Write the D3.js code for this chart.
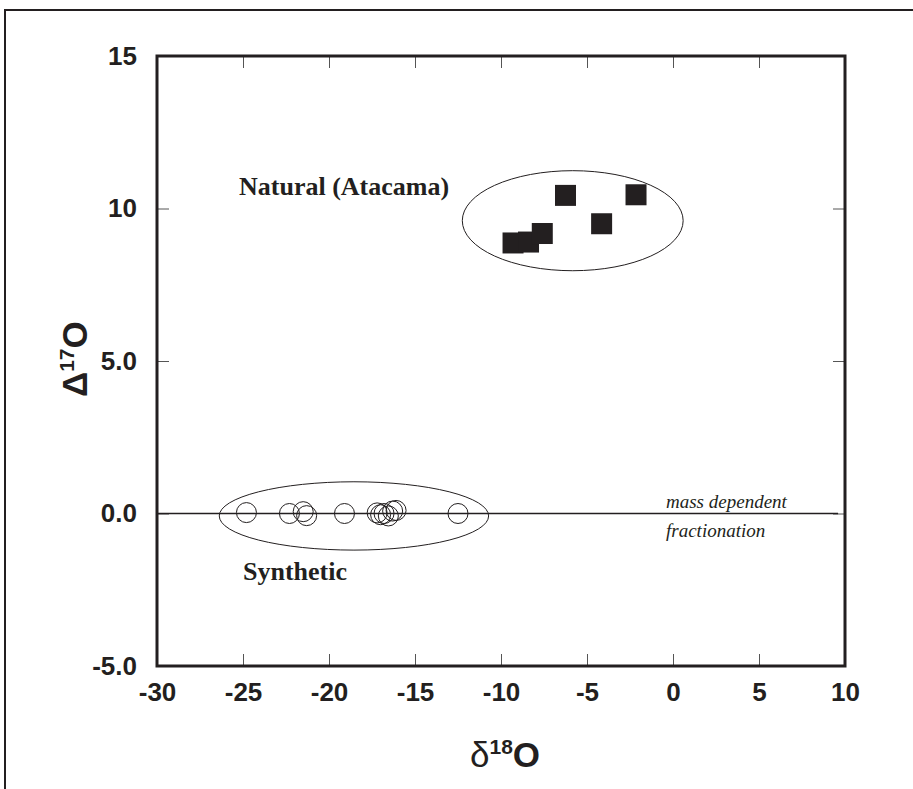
<!DOCTYPE html>
<meta charset="utf-8">
<style>
body { margin: 0; background: #fff; }
.tick text { font: bold 26px "Liberation Sans", Arial, sans-serif; fill: #231f20; }
.tick line { stroke: #555; stroke-width: 1; }
.domain { display: none; }
.lbl { font-family: "Liberation Serif", "Times New Roman", serif; fill: #231f20; }
.title { font-family: "Liberation Sans", Arial, sans-serif; font-weight: bold; fill: #231f20; }
</style>
<script src="https://cdn.jsdelivr.net/npm/d3@7"></script>
<body>
<script>

var width = 913, height = 789;

// x domain and ticks
var xDomain = [-30, 10];
var xTicks = [-30, -25, -20, -15, -10, -5, 0, 5, 10];
var xTickLabels = ["-30", "-25", "-20", "-15", "-10", "-5", "0", "5", "10"];
var yDomain = [-5, 15];
var yTicks = [-5, 0, 5, 10, 15];
var yTickLabels = ["-5.0", "0.0", "5.0", "10", "15"];

// natural (Atacama) samples: d18O, D17O
var naturalX = [-9.3, -8.4, -7.6, -6.25, -4.15, -2.15];
var naturalY = [8.87, 8.9, 9.18, 10.43, 9.5, 10.45];

// synthetic samples
var synthX = [-24.8, -22.3, -21.5, -21.3, -19.1, -17.2, -17.0, -16.8, -16.55, -16.3, -16.1, -12.5];
var synthY = [0.03, 0.0, 0.06, -0.07, 0.0, 0.02, -0.04, 0.0, -0.08, 0.08, 0.1, 0.0];

// group ellipses: cx, cy, rx, ry (data units)
var groupNames = ["natural", "synthetic"];
var ellCx = [-5.83, -18.55];
var ellCy = [9.6, -0.08];
var ellRx = [6.42, 7.83];
var ellRy = [1.64, 1.12];

var margin = {left: 157, right: 68, top: 56, bottom: 123};
var pw = width - margin.left - margin.right,
    ph = height - margin.top - margin.bottom;

var svg = d3.select("body").append("svg")
    .attr("width", width)
    .attr("height", height);

// outer frame (open at right/bottom of the page)
svg.append("rect")
    .attr("x", 5).attr("y", 10)
    .attr("width", 1000).attr("height", 1000)
    .attr("fill", "none")
    .attr("stroke", "#231f20")
    .attr("stroke-width", 2);

var g = svg.append("g")
    .attr("transform", "translate(" + margin.left + "," + margin.top + ")");

var x = d3.scaleLinear().domain(xDomain).range([0, pw]);
var y = d3.scaleLinear().domain(yDomain).range([ph, 0]);

// axes with inward ticks
g.append("g")
    .attr("transform", "translate(0," + ph + ")")
    .call(d3.axisBottom(x).tickValues(xTicks).tickSize(-12).tickPadding(17)
      .tickFormat(function(d, i) { return xTickLabels[i]; }));

g.append("g")
    .call(d3.axisTop(x).tickValues(xTicks).tickSize(-12).tickFormat(""));

g.append("g")
    .call(d3.axisLeft(y).tickValues(yTicks).tickSize(-12).tickPadding(20)
      .tickFormat(function(d, i) { return yTickLabels[i]; }));

g.append("g")
    .attr("transform", "translate(" + pw + ",0)")
    .call(d3.axisRight(y).tickValues(yTicks).tickSize(-12).tickFormat(""));

// mass dependent fractionation line
g.append("line")
    .attr("x1", x(-30)).attr("x2", x(9.6))
    .attr("y1", y(0)).attr("y2", y(0))
    .attr("stroke", "#231f20")
    .attr("stroke-width", 1.3);

// ellipses
g.selectAll("ellipse.grp")
    .data(groupNames)
    .enter().append("ellipse")
    .attr("class", "grp")
    .attr("cx", function(d, i) { return x(ellCx[i]); })
    .attr("cy", function(d, i) { return y(ellCy[i]); })
    .attr("rx", function(d, i) { return x(ellCx[i] + ellRx[i]) - x(ellCx[i]); })
    .attr("ry", function(d, i) { return y(ellCy[i]) - y(ellCy[i] + ellRy[i]); })
    .attr("fill", "none")
    .attr("stroke", "#231f20")
    .attr("stroke-width", 1);

// synthetic points
g.selectAll("circle.syn")
    .data(synthX)
    .enter().append("circle")
    .attr("class", "syn")
    .attr("cx", function(d) { return x(d); })
    .attr("cy", function(d, i) { return y(synthY[i]); })
    .attr("r", 10)
    .attr("fill", "none")
    .attr("stroke", "#231f20")
    .attr("stroke-width", 1);

// natural points
var sq = 21;
g.selectAll("rect.nat")
    .data(naturalX)
    .enter().append("rect")
    .attr("class", "nat")
    .attr("x", function(d) { return x(d) - sq / 2; })
    .attr("y", function(d, i) { return y(naturalY[i]) - sq / 2; })
    .attr("width", sq).attr("height", sq)
    .attr("fill", "#231f20");

// plot frame
g.append("rect")
    .attr("width", pw).attr("height", ph)
    .attr("fill", "none")
    .attr("stroke", "#231f20")
    .attr("stroke-width", 3);

// annotations
svg.append("text").attr("class", "lbl")
    .attr("x", 239).attr("y", 195)
    .style("font-size", "26px").style("font-weight", "bold")
    .text("Natural (Atacama)");

svg.append("text").attr("class", "lbl")
    .attr("x", 243).attr("y", 580)
    .style("font-size", "26px").style("font-weight", "bold")
    .text("Synthetic");

svg.append("text").attr("class", "lbl")
    .attr("x", 666).attr("y", 508)
    .style("font-size", "19px").style("font-style", "italic")
    .text("mass dependent");

svg.append("text").attr("class", "lbl")
    .attr("x", 666).attr("y", 537)
    .style("font-size", "19px").style("font-style", "italic")
    .text("fractionation");

// axis titles
var xt = svg.append("text").attr("class", "title")
    .attr("x", 470).attr("y", 767)
    .style("font-size", "35px");
xt.append("tspan").style("font-weight", "normal").text("δ");
xt.append("tspan").attr("dy", -13).style("font-size", "21px").text("18");
xt.append("tspan").attr("dy", 13).text("O");

var yt = svg.append("text").attr("class", "title")
    .attr("transform", "translate(87,397) rotate(-90)")
    .style("font-size", "35px");
yt.append("tspan").text("Δ");
yt.append("tspan").attr("dy", -13).style("font-size", "21px").text("17");
yt.append("tspan").attr("dy", 13).text("O");

</script>
</body>
